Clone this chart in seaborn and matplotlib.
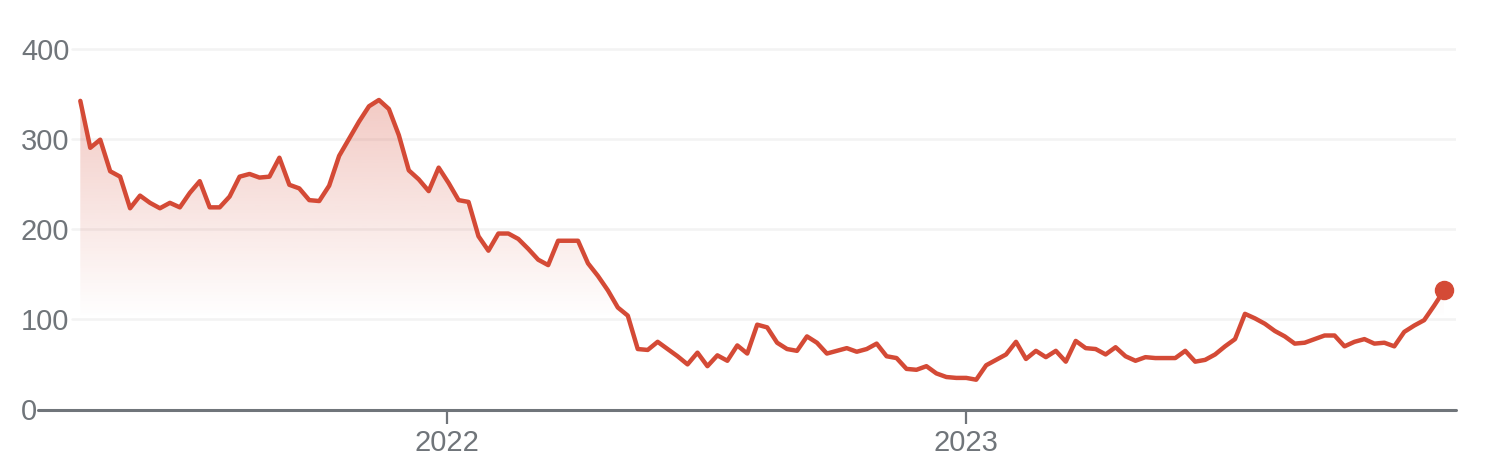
import numpy as np
import pandas as pd
import seaborn as sns
import matplotlib.pyplot as plt
import matplotlib.dates as mdates
from matplotlib.colors import to_rgb

# weekly values
start_date = '2021-04-18'
values = [342, 290, 299, 264, 258, 223, 237, 229, 223, 229,
          224, 240, 253, 224, 224, 236, 258, 261, 257, 258,
          279, 249, 245, 232, 231, 248, 281, 300, 319, 336,
          343, 333, 304, 265, 255, 242, 268, 251, 232, 230,
          192, 176, 195, 195, 189, 178, 166, 160, 187, 187,
          187, 162, 148, 132, 113, 104, 67, 66, 75, 67,
          59, 50, 63, 48, 60, 54, 71, 62, 94, 91,
          74, 67, 65, 81, 74, 62, 65, 68, 64, 67,
          73, 59, 57, 45, 44, 48, 40, 36, 35, 35,
          33, 49, 55, 61, 75, 56, 65, 58, 65, 53,
          76, 68, 67, 61, 69, 59, 54, 58, 57, 57,
          57, 65, 53, 55, 61, 70, 78, 106, 101, 95,
          87, 81, 73, 74, 78, 82, 82, 70, 75, 78,
          73, 74, 70, 86, 93, 99, 115, 132]
ytick_vals = [0, 100, 200, 300, 400]
xtick_dates = ['2022-01-01', '2023-01-01']
xtick_labels = ['2022', '2023']

dates = pd.date_range(start_date, periods=len(values), freq='7D')
df = pd.DataFrame({'date': dates, 'value': values})

red = '#d44a36'
grey = '#70757a'

sns.set_style('white')
plt.rcParams['font.family'] = ['Liberation Sans', 'DejaVu Sans']

fig = plt.figure(figsize=(15, 4.72), dpi=100)
ax = fig.add_axes([38 / 1500, 1 - 409.5 / 472, 1418 / 1500, (409.5 - 39.5) / 472])

sns.lineplot(data=df, x='date', y='value', color=red, lw=3.2, ax=ax, zorder=3)

xn = mdates.date2num(df['date'])
x0 = xn[0] - 29.75
x1 = xn[0] + 967.4

# gradient fill under the line
ys = np.linspace(0, 350, 256)
alpha = np.clip((ys - 100) / 250, 0, 1) * 0.3
rgba = np.zeros((256, 1, 4))
rgba[..., :3] = to_rgb(red)
rgba[:, 0, 3] = alpha
poly = ax.fill_between(xn, df['value'], 0, color='none', lw=0)
im = ax.imshow(rgba, extent=[xn[0], xn[-1], 0, 350], origin='lower',
               aspect='auto', zorder=1)
im.set_clip_path(poly.get_paths()[0], transform=ax.transData)

# end point
ax.plot(xn[-1], values[-1], 'o', color=red, ms=13, zorder=4, clip_on=False)

ax.set_xlim(x0, x1)
ax.set_ylim(0, 410)

# gridlines and zero line
for v in ytick_vals[1:]:
    ax.axhline(v, xmin=34 / 1418, xmax=1, color='#f3f3f3', lw=1.8, zorder=0)
ax.axhline(0, color=grey, lw=2.2, zorder=5, clip_on=False)

for v in ytick_vals:
    ax.text(-17 / 1418, v, str(v), transform=ax.get_yaxis_transform(),
            ha='left', va='center_baseline', fontsize=21, color=grey)

ax.set_yticks([])
ax.set_xticks(mdates.date2num(pd.to_datetime(xtick_dates)))
ax.set_xticklabels(xtick_labels, fontsize=21, color=grey)
ax.tick_params(axis='x', length=10, width=1.6, color=grey, pad=4, bottom=True)
ax.set_xlabel('')
ax.set_ylabel('')
sns.despine(ax=ax, left=True, bottom=True, right=True, top=True)

fig.savefig('out.png', dpi=100)
